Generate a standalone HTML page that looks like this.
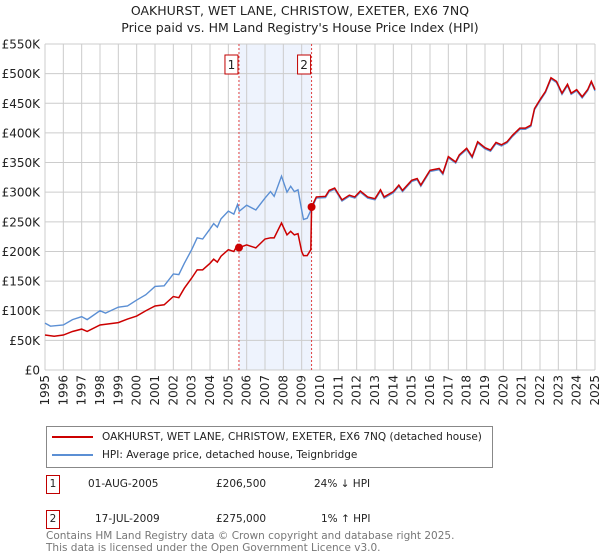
<!DOCTYPE html>
<html><head><meta charset="utf-8"><style>
body{margin:0;background:#fff;width:600px;height:560px;overflow:hidden;font-family:"DejaVu Sans","Liberation Sans",sans-serif;}
svg{position:absolute;left:0;top:0}
</style></head><body>
<svg id="c" width="600" height="560"></svg>
<script>
const hpiYears=[1995.0,1995.3,1996.0,1996.5,1997.0,1997.3,1998.0,1998.3,1999.0,1999.5,2000.0,2000.5,2001.0,2001.5,2002.0,2002.3,2002.6,2003.0,2003.3,2003.6,2004.0,2004.2,2004.4,2004.6,2005.0,2005.3,2005.5,2005.6,2006.0,2006.5,2007.0,2007.3,2007.5,2007.9,2008.2,2008.4,2008.6,2008.8,2009.0,2009.1,2009.3,2009.54,2009.8,2010.3,2010.5,2010.8,2011.2,2011.6,2011.9,2012.2,2012.6,2013.0,2013.3,2013.5,2014.0,2014.3,2014.5,2015.0,2015.3,2015.5,2016.0,2016.5,2016.7,2017.0,2017.4,2017.6,2018.0,2018.3,2018.6,2019.0,2019.3,2019.6,2019.9,2020.2,2020.5,2020.9,2021.2,2021.5,2021.7,2022.0,2022.3,2022.6,2022.9,2023.2,2023.5,2023.7,2024.0,2024.3,2024.6,2024.8,2025.0];
const hpiVals=[79,74,76,85,90,85,100,96,106,108,118,127,141,142,162,161,180,203,223,221,238,247,241,255,268,263,279,268,278,270,290,301,293,327,300,310,301,304,270,254,256,272,290,291,301,305,285,293,290,300,290,287,302,290,299,310,301,318,321,310,335,338,330,358,349,361,372,358,383,373,369,382,378,383,394,406,406,411,439,454,468,491,485,465,480,465,471,459,471,485,471];
const redYears=[1995.0,1995.5,1996.0,1996.5,1997.0,1997.3,1998.0,1999.0,1999.5,2000.0,2000.5,2001.0,2001.5,2002.0,2002.3,2002.6,2003.0,2003.3,2003.6,2004.0,2004.2,2004.4,2004.6,2005.0,2005.3,2005.5,2005.58,2006.0,2006.5,2007.0,2007.3,2007.5,2007.9,2008.2,2008.4,2008.6,2008.8,2009.0,2009.1,2009.3,2009.5,2009.54,2009.8,2010.3,2010.5,2010.8,2011.2,2011.6,2011.9,2012.2,2012.6,2013.0,2013.3,2013.5,2014.0,2014.3,2014.5,2015.0,2015.3,2015.5,2016.0,2016.5,2016.7,2017.0,2017.4,2017.6,2018.0,2018.3,2018.6,2019.0,2019.3,2019.6,2019.9,2020.2,2020.5,2020.9,2021.2,2021.5,2021.7,2022.0,2022.3,2022.6,2022.9,2023.2,2023.5,2023.7,2024.0,2024.3,2024.6,2024.8,2025.0];
const redVals=[59,57,59,65,69,65,76,80,86,91,100,108,110,124,122,138,155,169,169,180,187,182,192,203,200,211,206.5,211,206,221,223,223,248,228,234,228,230,200,193,193,203,275,292,293,303,307,287,295,292,302,292,289,304,292,301,312,303,320,323,312,337,340,332,360,351,363,374,360,385,375,371,384,380,385,396,408,408,413,441,456,470,493,487,467,482,467,473,461,473,487,473];
const saleYears=[2005.58,2009.54];
const saleVals=[206.5,275];
const yTicks=[0,50,100,150,200,250,300,350,400,450,500,550];
const yTickLabels=["£0","£50K","£100K","£150K","£200K","£250K","£300K","£350K","£400K","£450K","£500K","£550K"];
const xTicks=[1995,1996,1997,1998,1999,2000,2001,2002,2003,2004,2005,2006,2007,2008,2009,2010,2011,2012,2013,2014,2015,2016,2017,2018,2019,2020,2021,2022,2023,2024,2025];

const L=45,R=595,T=44,B=370;
const X=y=>L+(y-1995)/30*(R-L);
const Y=v=>B-v/550*(B-T);
const NS="http://www.w3.org/2000/svg";
const svg=document.getElementById('c');
function mk(tag,attrs,parent){const e=document.createElementNS(NS,tag);for(const k in attrs)e.setAttribute(k,attrs[k]);(parent||svg).appendChild(e);return e;}

let t=mk('text',{x:300,y:15,'text-anchor':'middle','font-size':12.5,fill:'#222'});t.textContent='OAKHURST, WET LANE, CHRISTOW, EXETER, EX6 7NQ';


t=mk('text',{x:300,y:32,'text-anchor':'middle','font-size':12.5,fill:'#222'});t.textContent="Price paid vs. HM Land Registry's House Price Index (HPI)";



let sh=mk('rect',{x:X(saleYears[0]),y:T,width:X(saleYears[1])-X(saleYears[0]),height:B-T,fill:'#eef3fd'});



xTicks.forEach(yr=>{
  const g=mk('line',{x1:X(yr),x2:X(yr),y1:T,y2:B,stroke:'#cccccc','stroke-width':1});
  
  
  const lb=mk('text',{transform:`translate(${X(yr)+4},${B+5}) rotate(-90)`,'text-anchor':'end','font-size':12,fill:'#222'});
  lb.textContent=yr;
  
  
});
yTicks.forEach((v,i)=>{
  const g=mk('line',{x1:L,x2:R,y1:Y(v),y2:Y(v),stroke:'#cccccc','stroke-width':1});
  
  
  const lb=mk('text',{x:L-5,y:Y(v)+4.5,'text-anchor':'end','font-size':12,fill:'#222'});
  lb.textContent=yTickLabels[i];
  
  
});

saleYears.forEach((yr,i)=>{
  const d=mk('line',{x1:X(yr),x2:X(yr),y1:T,y2:B,stroke:'#e04040','stroke-width':1,'stroke-dasharray':'2,2'});
  
  
  const bx=mk('rect',{x:X(yr)-14,y:55,width:13,height:19,fill:'#fff',stroke:'#c00000','stroke-width':1});
  
  
  const tx=mk('text',{x:X(yr)-7.5,y:69,'text-anchor':'middle','font-size':12,fill:'#222'});
  tx.textContent=String(i+1);
  
  
});

const hp=mk('polyline',{points:hpiYears.map((y,i)=>X(y)+','+Y(hpiVals[i])).join(' '),fill:'none',stroke:'#5b8fd4','stroke-width':1.4});


const rp=mk('polyline',{points:redYears.map((y,i)=>X(y)+','+Y(redVals[i])).join(' '),fill:'none',stroke:'#cc0000','stroke-width':1.5});


saleYears.forEach((yr,i)=>{
  const c=mk('circle',{cx:X(yr),cy:Y(saleVals[i]),r:4,fill:'#cc0000'});
  
  
});
</script>
<div style="position:absolute;left:46px;top:426px;width:447px;height:42px;border:1px solid #888;box-sizing:border-box;font-size:10.5px;color:#222">
 <div style="position:absolute;left:5px;top:4px;white-space:nowrap"><span style="display:inline-block;width:41px;height:2px;background:#cc0000;vertical-align:middle;margin-right:9px"></span>OAKHURST, WET LANE, CHRISTOW, EXETER, EX6 7NQ (detached house)</div>
 <div style="position:absolute;left:5px;top:22px;white-space:nowrap"><span style="display:inline-block;width:41px;height:2px;background:#5b8fd4;vertical-align:middle;margin-right:9px"></span>HPI: Average price, detached house, Teignbridge</div>
</div>
<div style="position:absolute;left:0;top:0;font-size:10.5px;color:#222">
 <div style="position:absolute;left:46px;top:475px;width:14px;height:19px;border:1px solid #c00000;box-sizing:border-box;text-align:center;line-height:17px">1</div>
 <div style="position:absolute;left:88px;top:478px;white-space:nowrap">01-AUG-2005</div>
 <div style="position:absolute;left:216px;top:478px">£206,500</div>
 <div style="position:absolute;left:314px;top:478px;white-space:nowrap">24% ↓ HPI</div>
 <div style="position:absolute;left:46px;top:510px;width:14px;height:19px;border:1px solid #c00000;box-sizing:border-box;text-align:center;line-height:17px">2</div>
 <div style="position:absolute;left:95px;top:513px;white-space:nowrap">17-JUL-2009</div>
 <div style="position:absolute;left:216px;top:513px">£275,000</div>
 <div style="position:absolute;left:321px;top:513px;white-space:nowrap">1% ↑ HPI</div>
</div>
<div style="position:absolute;left:46px;top:531px;font-size:10.5px;color:#777;line-height:11.5px;white-space:nowrap">Contains HM Land Registry data © Crown copyright and database right 2025.<br>This data is licensed under the Open Government Licence v3.0.</div>
</body></html>
